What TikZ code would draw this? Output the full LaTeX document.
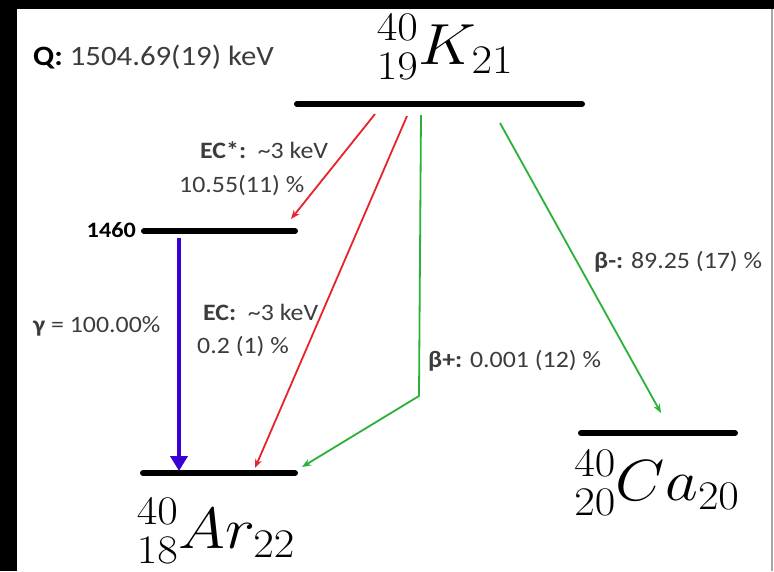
\documentclass[tikz,border=0pt]{standalone}
\usepackage{fix-cm}
\usepackage{graphicx}
\usepackage{fontspec}
\setmainfont{Carlito}[FakeStretch=1.1]
\usetikzlibrary{arrows.meta}
\definecolor{redarr}{HTML}{E8232E}
\definecolor{greenarr}{HTML}{2BB03A}
\definecolor{bluearr}{HTML}{3A00D6}
\definecolor{txtgray}{HTML}{3C3C3C}
\newcommand{\nuclide}[4]{\scalebox{1.1}[1]{$\displaystyle {}^{#1}_{#2}#3_{#4}$}}
\tikzset{
  level/.style={line width=6pt, line cap=round, black},
  lbl/.style={anchor=west, inner sep=0pt, text=txtgray, font=\fontsize{23.5}{26}\selectfont},
  nuc/.style={inner sep=0pt, font=\fontsize{58}{62}\selectfont},
  ecarrow/.style={redarr, line width=1.8pt, -{Stealth[length=9pt,width=7pt]}},
  betaarrow/.style={greenarr, line width=1.8pt, -{Stealth[length=9pt,width=7pt]}},
  gammaarrow/.style={bluearr, line width=4.5pt, -{Triangle[length=15pt,width=17pt]}},
}
\begin{document}
\begin{tikzpicture}[x=1pt,y=-1pt]
\useasboundingbox (0,0) rectangle (774,571);
\fill[white] (0,0) rectangle (774,571);
% frame
\fill[black] (0,0) rectangle (774,9);
\fill[black] (0,0) rectangle (17,571);
\draw[gray!70, line width=1.5pt] (772,9) -- (772,571);
% levels
\coordinate (Kl) at (297,104); \coordinate (Kr) at (582,104);
\coordinate (El) at (144,231); \coordinate (Er) at (295,231);
\coordinate (Al) at (143,473); \coordinate (Ar) at (295,473);
\coordinate (Cl) at (581,433); \coordinate (Cr) at (735,433);
\draw[level] (Kl) -- (Kr);
\draw[level] (El) -- (Er);
\draw[level] (Al) -- (Ar);
\draw[level] (Cl) -- (Cr);
% nuclide names
\node[nuc] (Kn) at (445,47) {\nuclide{40}{19}{K}{21}};
\node[nuc] (Arn) at (216,531) {\nuclide{40}{18}{Ar}{22}};
\node[nuc] (Can) at (657,483) {\nuclide{40}{20}{Ca}{20}};
% labels
\node[lbl, text=black, font=\fontsize{28}{30}\selectfont] (Q) at (33,57) {\textbf{Q:} \textcolor{txtgray}{1504.69(19) keV}};
\node[lbl, anchor=east, text=black, font=\bfseries\fontsize{22}{24}\selectfont] (e1460) at (136,230) {1460};
\node[lbl] (ecs1) at (200,150) {\textbf{EC*:}\ \ \textasciitilde 3 keV};
\node[lbl] (ecs2) at (179,186) {10.55(11) \%};
\node[lbl] (ec1) at (203,312) {\textbf{EC:}\ \ \textasciitilde 3 keV};
\node[lbl] (ec2) at (197,347) {0.2 (1) \%};
\node[lbl] (gam) at (33,326) {\textbf{γ} = 100.00\%};
\node[lbl] (bp) at (428,361) {\textbf{β+:} 0.001 (12) \%};
\node[lbl] (bm) at (594,262) {\textbf{β-:} 89.25 (17) \%};
% transitions
\coordinate (g1) at (179,238); \coordinate (g2) at (179,471);
\coordinate (r1a) at (375,114); \coordinate (r1b) at (291,219);
\coordinate (r2a) at (407,116); \coordinate (r2b) at (255,468);
\coordinate (b1a) at (421,115); \coordinate (b1k) at (419,396); \coordinate (b1b) at (302,467);
\coordinate (b2a) at (500,123); \coordinate (b2b) at (661,413);
\draw[gammaarrow] (g1) -- (g2);
\draw[ecarrow] (r1a) -- (r1b);
\draw[ecarrow] (r2a) -- (r2b);
\draw[betaarrow, line join=round] (b1a) -- (b1k) -- (b1b);
\draw[betaarrow] (b2a) -- (b2b);
\end{tikzpicture}
\end{document}
